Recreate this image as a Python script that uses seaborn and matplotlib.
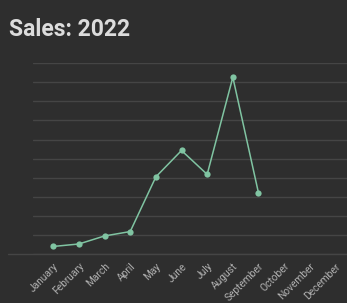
import pandas as pd
import seaborn as sns
import matplotlib.pyplot as plt

# monthly sales
months = ["January", "February", "March", "April", "May", "June",
          "July", "August", "September", "October", "November", "December"]
sales = [41, 54, 96, 119, 405, 543, 418, 926, 321, None, None, None]

bg = "#2e2e2e"
line_color = "#80c4a2"

sns.set_theme(style="dark")
plt.rcParams['font.family'] = ['Roboto', 'DejaVu Sans']

df = pd.DataFrame({"month": months, "sales": sales})
df["idx"] = range(len(months))

fig = plt.figure(figsize=(3.47, 3.03), dpi=100, facecolor=bg)
ax = fig.add_axes([0.095, 0.1607, 0.905, 0.631])
ax.set_facecolor(bg)

sns.lineplot(data=df.dropna(), x="idx", y="sales", ax=ax, color=line_color,
             linewidth=1.1, marker="o", markersize=4.5, markeredgewidth=0)

# horizontal grid only
ax.set_ylim(0, 1000)
ax.set_yticks(range(0, 1001, 100))
ax.yaxis.grid(True, color="#454545", linewidth=1.0)
ax.xaxis.grid(False)
ax.set_yticklabels([])
ax.tick_params(axis="y", length=0)
ax.axhline(0, xmin=-0.08, xmax=1, color="#454545", linewidth=1.0, clip_on=False)

ax.set_xlim(-0.79, 11.45)
ax.set_xticks(df["idx"])
ax.set_xticklabels(months, rotation=45, ha="right", rotation_mode="anchor",
                   fontsize=7.3, color="#b0b0b0")
ax.tick_params(axis="x", length=0, pad=5)
ax.set_xlabel("")
ax.set_ylabel("")
for s in ax.spines.values():
    s.set_visible(False)

fig.text(0.026, 0.882, "Sales: 2022", fontsize=16.5, fontweight="bold",
         color="#dcdcdc", ha="left", va="baseline")

fig.savefig("out.png", dpi=100, facecolor=bg)
